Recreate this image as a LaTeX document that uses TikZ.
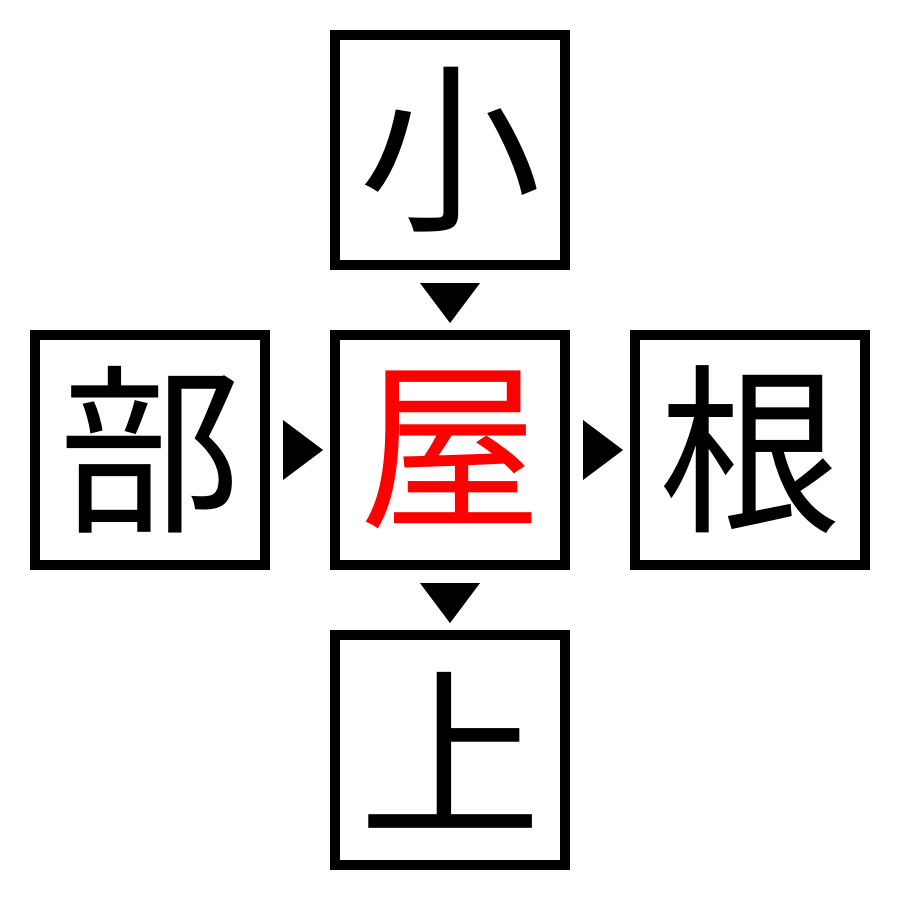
\documentclass[tikz,border=0pt]{standalone}
\usepackage{fontspec}
\newfontfamily\cjk{Noto Sans CJK JP}
\begin{document}
\begin{tikzpicture}[x=1pt,y=-1pt,
  cbox/.style={draw=black,line width=10pt,minimum size=230pt,inner sep=0pt,font=\cjk\fontsize{182}{182}\selectfont},
  tri/.style={fill=black}]
\useasboundingbox (0,0) rectangle (900,900);
\node[cbox] (t) at (450,150) {小};
\node[cbox] (l) at (150,450) {部};
\node[cbox,text=red] (c) at (450,450) {屋};
\node[cbox] (r) at (750,450) {根};
\node[cbox] (b) at (450,750) {上};
\fill[tri] (420,283) -- (480,283) -- (450,323) -- cycle;
\fill[tri] (420,583) -- (480,583) -- (450,623) -- cycle;
\fill[tri] (283,420) -- (283,480) -- (323,450) -- cycle;
\fill[tri] (583,420) -- (583,480) -- (623,450) -- cycle;
\end{tikzpicture}
\end{document}
